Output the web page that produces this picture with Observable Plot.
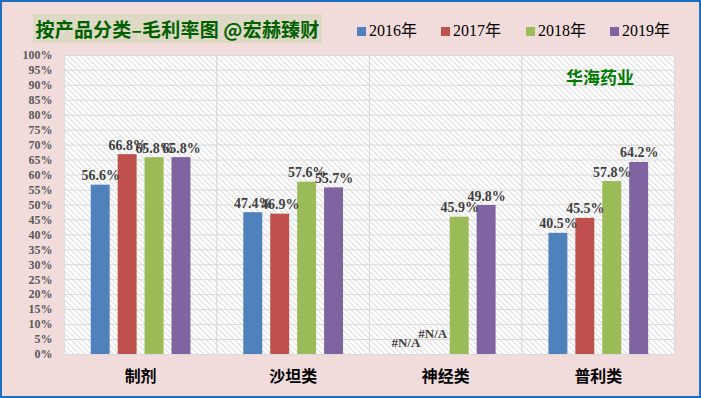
<!DOCTYPE html>
<html><head><meta charset="utf-8">
<script src="https://cdn.jsdelivr.net/npm/d3@7"></script>
<script src="https://cdn.jsdelivr.net/npm/@observablehq/plot@0.6"></script>
<style>
body{margin:0;}
#wrap{position:relative;width:701px;height:398px;background:#F2DCDB;border:2px solid #1F6FC0;box-sizing:border-box;overflow:hidden;font-family:"Liberation Serif","Noto Sans CJK SC",serif;}
#chart{position:absolute;left:-2px;top:-2px;}
#title{position:absolute;left:31px;top:12px;width:289px;height:29px;background:#DDD9C4;color:#006000;font-family:"Noto Sans CJK SC",sans-serif;font-weight:bold;font-size:19px;line-height:29px;text-align:center;white-space:nowrap;letter-spacing:0.2px;}
#brand{position:absolute;left:564px;top:62px;color:#007A00;font-family:"Noto Sans CJK SC",sans-serif;font-weight:bold;font-size:17px;white-space:nowrap;}
.lg{position:absolute;top:19px;font-size:16px;color:#000;white-space:nowrap;line-height:20px;}
.lg i{display:inline-block;width:9px;height:9px;margin-right:3px;vertical-align:0px;}
</style>
</head><body>
<div id="wrap">
  <div id="chart"></div>
  <div id="title">按产品分类–毛利率图 @宏赫臻财</div>
  <div id="legend"></div>
  <div id="brand">华海药业</div>
</div>
<script>
const categories = ["制剂", "沙坦类", "神经类", "普利类"];
const years = ["2016年", "2017年", "2018年", "2019年"];
const colors = ["#4F81BD", "#C0504D", "#9BBB59", "#8064A2"];
const v2016 = [0.566, 0.474, null, 0.405];
const v2017 = [0.668, 0.469, null, 0.455];
const v2018 = [0.658, 0.576, 0.459, 0.578];
const v2019 = [0.658, 0.557, 0.498, 0.642];
const yTicks = [0, 0.05, 0.10, 0.15, 0.20, 0.25, 0.30, 0.35, 0.40, 0.45, 0.50, 0.55, 0.60, 0.65, 0.70, 0.75, 0.80, 0.85, 0.90, 0.95, 1.00];
const naText = "#N/A";

const series = [v2016, v2017, v2018, v2019];
const data = [];
categories.forEach((c, i) => years.forEach((y, j) => data.push({category: c, year: y, value: series[j][i]})));
const valid = data.filter(d => d.value != null);
const na = data.filter(d => d.value == null);

// legend
const lgLefts = [355, 439, 524, 608];
const legend = document.getElementById("legend");
years.forEach((y, i) => {
  const s = document.createElement("span");
  s.className = "lg";
  s.style.left = lgLefts[i] + "px";
  s.innerHTML = `<i style="background:${colors[i]}"></i>${y}`;
  legend.appendChild(s);
});

const font = `"Liberation Serif","Noto Sans CJK SC",serif`;
const plot = Plot.plot({
  width: 701, height: 398,
  marginLeft: 63, marginRight: 24, marginTop: 55, marginBottom: 43,
  style: {background: "transparent", fontFamily: font, overflow: "visible"},
  fx: {domain: categories, padding: 0, label: null, axis: null},
  x: {domain: years, paddingInner: 0.3, paddingOuter: 0.92, axis: null},
  y: {domain: [0, 1], label: null, axis: null},
  color: {domain: years, range: colors},
  marks: [
    Plot.frame({fill: "url(#hatch)", stroke: "#D9D9D9"}),
    Plot.gridY(yTicks, {stroke: "#D9D9D9", strokeOpacity: 1}),
    Plot.barY(valid, {fx: "category", x: "year", y: "value", fill: "year"}),
    Plot.text(valid, {fx: "category", x: "year", y: "value", text: d => (d.value * 100).toFixed(1) + "%",
      lineAnchor: "bottom", dy: -5, fontSize: 14, fontWeight: "bold", fill: "#404040"}),
    Plot.text(na.filter(d => d.year === years[0]), {fx: "category", x: "year", y: () => 0, text: () => naText,
      lineAnchor: "bottom", dy: -8, fontSize: 13, fontWeight: "bold", fill: "#404040"}),
    Plot.text(na.filter(d => d.year === years[1]), {fx: "category", x: "year", y: () => 0, text: () => naText,
      lineAnchor: "bottom", dy: -17, fontSize: 13, fontWeight: "bold", fill: "#404040"}),
    Plot.axisY({ticks: yTicks, tickFormat: d3.format(".0%"), tickSize: 0, tickPadding: 12, label: null,
      fontSize: 12, fontWeight: "bold", fill: "#595959"}),
    Plot.axisFx({anchor: "bottom", tickSize: 0, tickPadding: 16, label: null, fontSize: 16, fontWeight: "bold", fill: "#000",
      fontFamily: `"Noto Sans CJK SC",sans-serif`})
  ]
});
d3.select(plot).insert("defs", ":first-child").html(
  `<pattern id="hatch" width="4" height="4" patternUnits="userSpaceOnUse" patternTransform="rotate(-45)">
     <rect width="4" height="4" fill="#ffffff"/>
     <line x1="0.5" y1="0" x2="0.5" y2="4" stroke="#DCDCDC" stroke-width="1"/>
   </pattern>`);
document.getElementById("chart").appendChild(plot);
</script>
</body></html>
